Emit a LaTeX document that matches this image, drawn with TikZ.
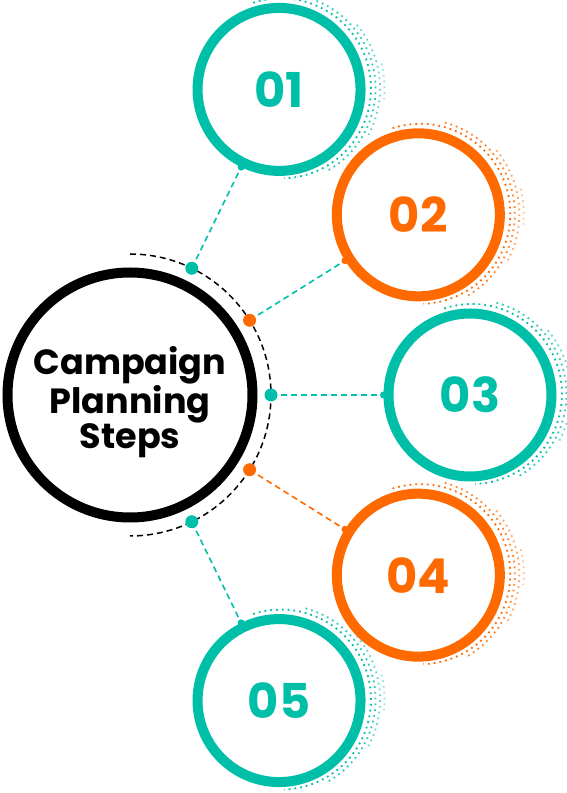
\documentclass[tikz,border=0pt]{standalone}
\usepackage{fontspec}
\setmainfont{Poppins}
\definecolor{tealc}{RGB}{0,191,168}
\definecolor{orangec}{RGB}{255,106,0}
\begin{document}
\begin{tikzpicture}[x=1pt,y=1pt,
  ring/.style={circle, draw=#1, line width=10pt, minimum size=163pt, inner sep=0pt, fill=white, text=#1, font=\bfseries\fontsize{48}{48}\selectfont},
  conn/.style={draw=#1, dash pattern=on 6pt off 4pt, line width=1.6pt},
  adot/.style={circle, fill=#1, inner sep=0pt, minimum size=13pt},
  edot/.style={circle, fill=#1, inner sep=0pt, minimum size=7pt},
  ht/.style={draw=#1, line width=1.8pt, dash pattern=on 1.8pt off 4pt},
  mainc/.style={circle, draw=black, line width=10pt, minimum size=245pt, inner sep=0pt, fill=white},
  title/.style={align=center, inner sep=0pt, font=\bfseries\fontsize{35}{35}\selectfont}
]
\useasboundingbox (0,0) rectangle (567,793);
\coordinate (C) at (130,398);
% positions of numbered circles
\foreach \a [count=\i] in {64,32,0,-32,-64} {
  \coordinate (p\i) at ([shift={(\a:340)}]C);
}
% halftone shadows
\foreach \i/\col in {1/tealc,2/orangec,3/tealc,4/orangec,5/tealc} {
  \draw[ht=\col] ([shift={(2,1)}]p\i) ++(108:90) arc[start angle=108,end angle=-88,radius=90];
  \draw[ht=\col, opacity=0.8] ([shift={(2,1)}]p\i) ++(75:94.5) arc[start angle=75,end angle=-60,radius=94.5];
  \draw[ht=\col, opacity=0.6] ([shift={(2,1)}]p\i) ++(40:99) arc[start angle=40,end angle=-28,radius=99];
  \draw[ht=\col, opacity=0.4] ([shift={(2,1)}]p\i) ++(14:103.5) arc[start angle=14,end angle=-6,radius=103.5];
}
% main circle and arc
\node[mainc] (main) at (C) {};
\node[title] (tt) at ([yshift=-7]C) {Campaign\\Planning\\Steps};
\draw[black, line width=1.5pt, dash pattern=on 6pt off 4pt] (C) ++(90:141) arc[start angle=90,end angle=-90,radius=141];
% arc dots
\foreach \a [count=\i] in {64,32,0,-32,-64} {
  \coordinate (q\i) at ([shift={(\a:141)}]C);
}
% numbered circles
\node[ring=tealc] (n1) at (p1) {01};
\node[ring=orangec] (n2) at (p2) {02};
\node[ring=tealc] (n3) at (p3) {03};
\node[ring=orangec] (n4) at (p4) {04};
\node[ring=tealc] (n5) at (p5) {05};
% connectors
\draw[conn=tealc] (q1) -- (n1) coordinate[pos=1] (e1);
\draw[conn=tealc] (q2) -- (n2) coordinate[pos=1] (e2);
\draw[conn=tealc] (q3) -- (n3) coordinate[pos=1] (e3);
\draw[conn=orangec] (q4) -- (n4) coordinate[pos=1] (e4);
\draw[conn=tealc] (q5) -- (n5) coordinate[pos=1] (e5);
\node[edot=tealc] (f1) at (e1) {};
\node[edot=orangec] (f2) at (e2) {};
\node[edot=tealc] (f3) at (e3) {};
\node[edot=orangec] (f4) at (e4) {};
\node[edot=tealc] (f5) at (e5) {};
\node[adot=tealc] (d1) at (q1) {};
\node[adot=orangec] (d2) at (q2) {};
\node[adot=tealc] (d3) at (q3) {};
\node[adot=orangec] (d4) at (q4) {};
\node[adot=tealc] (d5) at (q5) {};
\end{tikzpicture}
\end{document}
